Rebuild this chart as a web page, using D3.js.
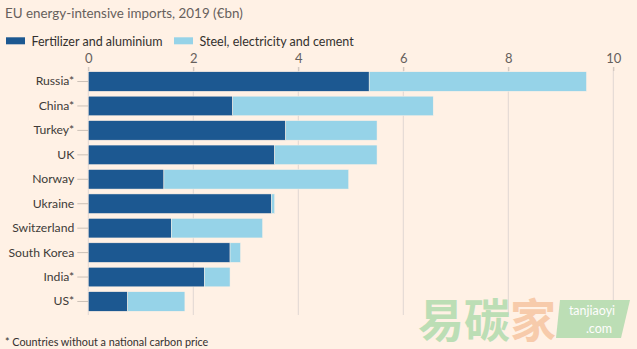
<!DOCTYPE html>
<html>
<head>
<meta charset="utf-8">
<script src="https://cdn.jsdelivr.net/npm/d3@7"></script>
<style>
  html, body { margin: 0; padding: 0; background: #fff1e5; }
  svg { display: block; font-family: Lato, "Noto Sans", sans-serif; }
</style>
</head>
<body>
<svg id="chart" width="637" height="349"></svg>
<script>
// EU energy-intensive imports by origin, 2019 (€bn)
const countries = ["Russia*", "China*", "Turkey*", "UK", "Norway", "Ukraine",
                   "Switzerland", "South Korea", "India*", "US*"];
const fertilizerAluminium = [5.35, 2.75, 3.76, 3.55, 1.44, 3.49, 1.58, 2.70, 2.21, 0.75];
const steelElectricityCement = [4.14, 3.82, 1.74, 1.95, 3.52, 0.06, 1.74, 0.20, 0.49, 1.09];
const seriesNames = ["Fertilizer and aluminium", "Steel, electricity and cement"];
const seriesColors = ["#1c5891", "#96d3e8"];
const xTicks = [0, 2, 4, 6, 8, 10];

const FONT = "Lato, 'Noto Sans', sans-serif";
const svg = d3.select("#chart");
const W = 637, H = 349;

svg.append("rect").attr("width", W).attr("height", H).attr("fill", "#fff1e5");

const x = d3.scaleLinear().domain([0, 10]).range([88.3, 613.3]);
const y = d3.scaleBand().domain(countries).range([69.3, 313.7])
  .paddingInner(0.2).paddingOuter(0.1);

// Title
svg.append("text")
  .attr("x", 5).attr("y", 18)
  .attr("font-size", 13.4).attr("fill", "#66605c")
  .text("EU energy-intensive imports, 2019 (€bn)");

// Legend
const legendX = [6, 174];
seriesNames.forEach((name, i) => {
  const g = svg.append("g").attr("transform", `translate(${legendX[i]},37.3)`);
  g.append("rect").attr("width", 19).attr("height", 7).attr("fill", seriesColors[i]);
  g.append("text").attr("x", 25.5).attr("y", 8.5)
    .attr("font-size", 12.5).attr("fill", "#33302e").text(name);
});

// Vertical gridlines and top axis
const gridBottom = 315;
svg.append("g").selectAll("line").data(xTicks).join("line")
  .attr("x1", d => x(d)).attr("x2", d => x(d))
  .attr("y1", 67).attr("y2", gridBottom)
  .attr("stroke", "#e0d8d2").attr("stroke-width", 1);

const xAxis = svg.append("g").attr("transform", "translate(0,71)")
  .call(d3.axisTop(x).tickValues(xTicks).tickSize(4).tickFormat(d3.format("d")));
xAxis.select(".domain").remove();
xAxis.selectAll(".tick line").attr("stroke", "#ccc1b7");
xAxis.selectAll(".tick text")
  .attr("font-family", FONT)
  .attr("font-size", 13).attr("fill", "#66605c").attr("dy", "-0.1em");

// Category axis on the left
const yAxis = svg.append("g").attr("transform", `translate(${x(0)},0)`)
  .call(d3.axisLeft(y).tickSize(11).tickPadding(3));
yAxis.select(".domain").remove();
yAxis.selectAll(".tick line").attr("stroke", "#ccc1b7");
yAxis.selectAll(".tick text")
  .attr("font-family", FONT)
  .attr("font-size", 12.2).attr("fill", "#403b38");

// Stacked bars
const rows = countries.map((c, i) => ({
  country: c,
  fert: fertilizerAluminium[i],
  steel: steelElectricityCement[i]
}));
const stack = d3.stack().keys(["fert", "steel"])(rows);

svg.append("g").selectAll("g").data(stack).join("g")
  .attr("fill", (d, i) => seriesColors[i])
  .selectAll("rect").data(d => d).join("rect")
  .attr("x", d => x(d[0]))
  .attr("width", d => Math.max(0, x(d[1]) - x(d[0])))
  .attr("y", d => y(d.data.country))
  .attr("height", y.bandwidth())
  .attr("stroke", "#fff1e5").attr("stroke-width", 0.5);

// Footnote
svg.append("text")
  .attr("x", 5).attr("y", 346)
  .attr("font-size", 10.8).attr("fill", "#33302e")
  .text("* Countries without a national carbon price");

// Site mark in the lower right corner
const mark = svg.append("g").attr("opacity", 0.95);
mark.append("text").attr("x", 418).attr("y", 337)
  .attr("font-family", "'Noto Sans CJK SC'").attr("font-weight", "bold")
  .attr("font-size", 46).attr("fill", "#b9ddb3").text("易碳");
mark.append("text").attr("x", 510).attr("y", 337)
  .attr("font-family", "'Noto Sans CJK SC'").attr("font-weight", "bold")
  .attr("font-size", 46).attr("fill", "#f7c9a8").text("家");
mark.append("path")
  .attr("d", "M560,300 L630,300 L621,338 L556,338 Z")
  .attr("fill", "#b9ddb3");
mark.append("text").attr("x", 592).attr("y", 315).attr("text-anchor", "middle")
  .attr("font-size", 12.5).attr("fill", "#ffffff").text("tanjiaoyi");
mark.append("text").attr("x", 599).attr("y", 333).attr("text-anchor", "middle")
  .attr("font-size", 12.5).attr("fill", "#ffffff").text(".com");
</script>
</body>
</html>
